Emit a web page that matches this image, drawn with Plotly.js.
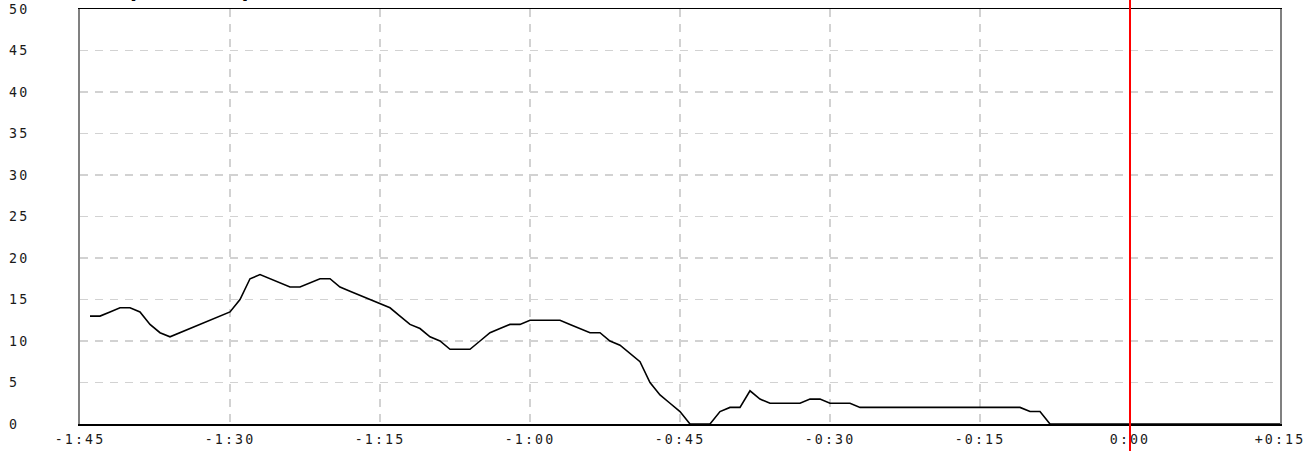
<!DOCTYPE html>
<html>
<head>
<meta charset="utf-8">
<script src="https://cdn.plot.ly/plotly-3.0.1.min.js"></script>
<style>
  html, body { margin: 0; padding: 0; background: #ffffff; }
  #chart { width: 1309px; height: 451px; }
  .xtick text, .ytick text { letter-spacing: 2.1px; }
  .annotation-text { letter-spacing: 1.5px; }
</style>
</head>
<body>
<div id="chart"></div>
<script>
// Minutes relative to "now" (0:00)
const minutes = [
  -104,-103,-102,-101,-100,-99,-98,-97,-96,-95,-94,-93,-92,-91,-90,
  -89,-88,-87,-86,-85,-84,-83,-82,-81,-80,-79,-78,-77,-76,-75,
  -74,-73,-72,-71,-70,-69,-68,-67,-66,-65,-64,-63,-62,-61,-60,
  -59,-58,-57,-56,-55,-54,-53,-52,-51,-50,-49,-48,-47,-46,-45,
  -44,-43,-42,-41,-40,-39,-38,-37,-36,-35,-34,-33,-32,-31,-30,
  -29,-28,-27,-26,-25,-24,-23,-22,-21,-20,-19,-18,-17,-16,-15,
  -14,-13,-12,-11,-10,-9,-8,-7,-6,-5,-4,-3,-2,-1,0,
  1,2,3,4,5,6,7,8,9,10,11,12,13,14,15
];
const speed = [
  13,13,13.5,14,14,13.5,12,11,10.5,11,11.5,12,12.5,13,13.5,
  15,17.5,18,17.5,17,16.5,16.5,17,17.5,17.5,16.5,16,15.5,15,14.5,
  14,13,12,11.5,10.5,10,9,9,9,10,11,11.5,12,12,12.5,
  12.5,12.5,12.5,12,11.5,11,11,10,9.5,8.5,7.5,5,3.5,2.5,1.5,
  0,0,0,1.5,2,2,4,3,2.5,2.5,2.5,2.5,3,3,2.5,
  2.5,2.5,2,2,2,2,2,2,2,2,2,2,2,2,2,
  2,2,2,2,1.5,1.5,0,0,0,0,0,0,0,0,0,
  0,0,0,0,0,0,0,0,0,0,0,0,0,0,0
];
const xTickVals = [-105,-90,-75,-60,-45,-30,-15,0,15];
const xTickText = ["-1:45","-1:30","-1:15","-1:00","-0:45","-0:30","-0:15","0:00","+0:15"];
const yTickVals = [0,5,10,15,20,25,30,35,40,45,50];
const yTickText = ["0\u00A0","5\u00A0","10","15","20","25","30","35","40","45","50"];
const titleText = "Speed (mph)";
const nowMinute = 0;

const monoFont = {family: "DejaVu Sans Mono", size: 13.3, color: "#1a1a1a"};

const trace = {
  x: minutes,
  y: speed,
  type: "scatter",
  mode: "lines",
  line: {color: "#000000", width: 1.6},
  hoverinfo: "skip"
};

const layout = {
  width: 1309,
  height: 451,
  margin: {l: 80, r: 29, t: 8.5, b: 26.5, pad: 0},
  paper_bgcolor: "#ffffff",
  plot_bgcolor: "#ffffff",
  showlegend: false,
  hovermode: false,
  xaxis: {
    range: [-105, 15],
    tickmode: "array",
    tickvals: xTickVals,
    ticktext: xTickText,
    ticks: "",
    tickfont: monoFont,
    ticklabelstandoff: 3,
    showgrid: true,
    gridcolor: "#d2d2d2",
    gridwidth: 1.2,
    griddash: "8px,7px",
    zeroline: false,
    showline: true,
    linecolor: "#000000",
    linewidth: 1.5,
    mirror: true,
    fixedrange: true
  },
  yaxis: {
    range: [0, 50],
    tickmode: "array",
    tickvals: yTickVals,
    ticktext: yTickText,
    ticks: "",
    tickfont: monoFont,
    ticklabelstandoff: 46,
    showgrid: true,
    gridcolor: "#d2d2d2",
    gridwidth: 1.2,
    griddash: "8px,7px",
    zeroline: false,
    showline: true,
    linecolor: "#808080",
    linewidth: 2,
    mirror: true,
    fixedrange: true
  },
  shapes: [{
    type: "line",
    xref: "x", yref: "paper",
    x0: nowMinute, x1: nowMinute,
    y0: -0.07, y1: 1.03,
    line: {color: "#ff0000", width: 2},
    layer: "above"
  }],
  annotations: [{
    text: titleText,
    xref: "paper", yref: "paper",
    x: (112 - 80) / 1200, y: 1,
    xanchor: "left", yanchor: "bottom",
    yshift: 5,
    showarrow: false,
    font: {family: "DejaVu Sans Mono", size: 24, weight: "bold", color: "#000000"}
  }]
};

Plotly.newPlot("chart", [trace], layout, {displayModeBar: false, staticPlot: true});
</script>
</body>
</html>
